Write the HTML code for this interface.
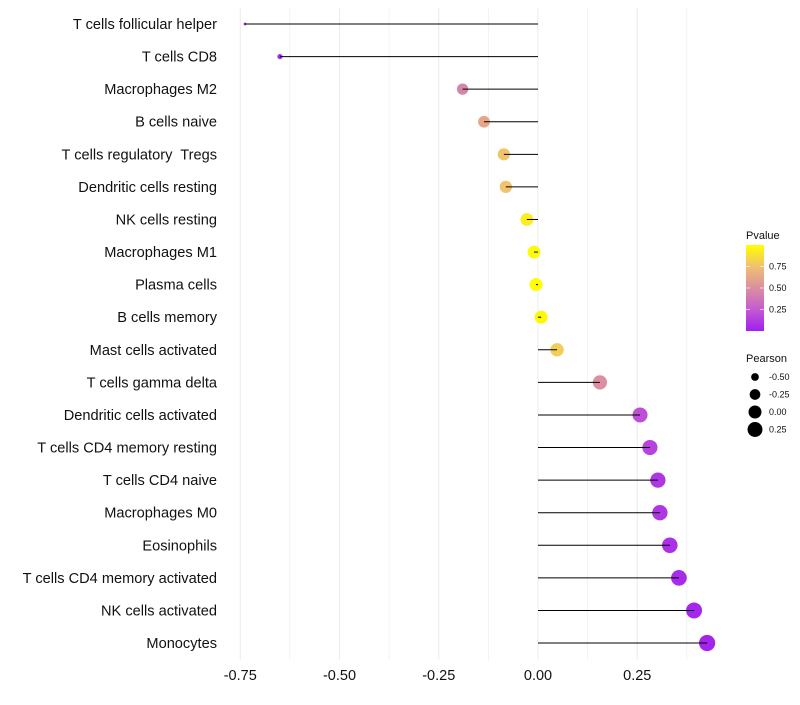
<!DOCTYPE html>
<html><head><meta charset="utf-8"><style>
body{margin:0;background:#fff}
svg text{font-family:"Liberation Sans",sans-serif;white-space:pre}
</style></head><body>
<svg id="c" width="800" height="700"></svg>
<script>
const categories=["T cells follicular helper","T cells CD8","Macrophages M2","B cells naive","T cells regulatory  Tregs","Dendritic cells resting","NK cells resting","Macrophages M1","Plasma cells","B cells memory","Mast cells activated","T cells gamma delta","Dendritic cells activated","T cells CD4 memory resting","T cells CD4 naive","Macrophages M0","Eosinophils","T cells CD4 memory activated","NK cells activated","Monocytes"];
const pearson=[-0.738,-0.65,-0.19,-0.136,-0.086,-0.081,-0.028,-0.01,-0.005,0.008,0.048,0.156,0.257,0.282,0.302,0.307,0.332,0.355,0.393,0.426];
const pvalue=[0.02,0.03,0.45,0.62,0.77,0.76,0.93,0.99,1.0,0.97,0.8,0.5,0.2,0.15,0.1,0.1,0.07,0.05,0.03,0.02];
const xTicks=[-0.75,-0.5,-0.25,0,0.25];
const xTickLabels=["-0.75","-0.50","-0.25","0.00","0.25"];
const pTicks=[0.25,0.5,0.75];
const sizeTicks=[-0.5,-0.25,0,0.25];
const NS="http://www.w3.org/2000/svg",svg=document.getElementById('c');
function el(t,a,p){const e=document.createElementNS(NS,t);for(const k in a)e.setAttribute(k,a[k]);(p||svg).appendChild(e);return e;}
const x=v=>538+v*397;
const y=i=>24+i*32.58;
const stops=[[0,[161,31,240]],[0.25,[196,91,208]],[0.5,[219,143,160]],[0.75,[240,192,112]],[1,[255,255,0]]];
function col(p){for(let i=1;i<stops.length;i++){if(p<=stops[i][0]){const a=stops[i-1],b=stops[i],t=(p-a[0])/(b[0]-a[0]);return 'rgb('+a[1].map((c,j)=>Math.round(c+(b[1][j]-c)*t)).join(',')+')';}}return 'rgb(255,255,0)';}
const mn=-0.74,mx=0.43;
const rad=v=>Math.sqrt(1+Math.max(0,(v-mn)/(mx-mn))*35)*1.35;
for(let v=-0.75;v<=0.4;v+=0.125){const g=el('line',{x1:x(v),x2:x(v),y1:8,y2:660,stroke:'#ececec','stroke-width':Math.abs(v*8%2)<0.01?1:0.6});
}
xTicks.forEach((v,i)=>{const t=el('text',{x:x(v),y:680,'text-anchor':'middle','font-size':14.5,fill:'#111'});t.textContent=xTickLabels[i];
});
categories.forEach((c,i)=>{
const t=el('text',{x:217,y:y(i)+5,'text-anchor':'end','font-size':14.6,fill:'#111'});t.textContent=c;

const cc=el('circle',{cx:x(pearson[i]),cy:y(i),r:rad(pearson[i]),fill:col(pvalue[i])});

const l=el('line',{x1:x(0),x2:x(pearson[i]),y1:y(i),y2:y(i),stroke:'#000','stroke-width':1});

});
let t=el('text',{x:746,y:239,'font-size':11,fill:'#111'});t.textContent='Pvalue';

const d=el('defs',{});const lg=el('linearGradient',{id:'g',x1:0,y1:1,x2:0,y2:0},d);
stops.forEach(s=>el('stop',{offset:s[0],'stop-color':col(s[0])},lg));
const r=el('rect',{x:746,y:245,width:18,height:86,fill:'url(#g)'});

pTicks.forEach(p=>{const yy=331-p*86;el('line',{x1:746,x2:750,y1:yy,y2:yy,stroke:'#fff','stroke-opacity':0.6});el('line',{x1:760,x2:764,y1:yy,y2:yy,stroke:'#fff','stroke-opacity':0.6});
const tt=el('text',{x:769,y:yy+3,'font-size':9,fill:'#111'});tt.textContent=p.toFixed(2);
});
t=el('text',{x:746,y:362,'font-size':11,fill:'#111'});t.textContent='Pearson';

sizeTicks.forEach((v,i)=>{const yy=377+i*17.5;const c=el('circle',{cx:755,cy:yy,r:rad(v),fill:'#000'});

const tt=el('text',{x:769,y:yy+3,'font-size':9,fill:'#111'});tt.textContent=v.toFixed(2);
});
</script>
</body></html>
